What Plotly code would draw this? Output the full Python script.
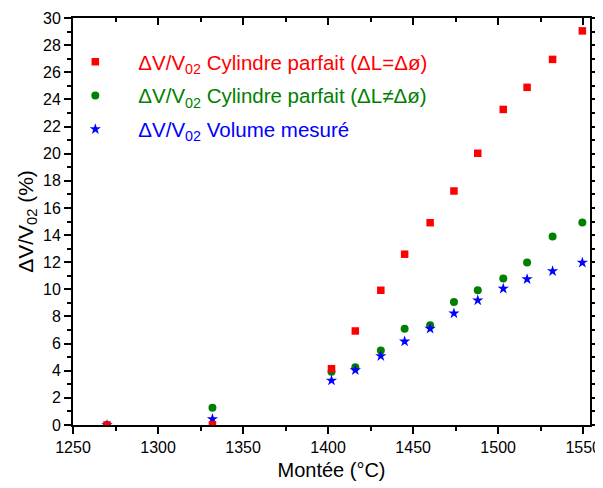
import plotly.graph_objects as go

temps = [1270, 1332, 1402, 1416, 1431, 1445, 1460, 1474, 1488, 1503, 1517, 1532, 1549.5]
dv_parfait_eq = [0, 0.02, 4.15, 6.93, 9.93, 12.59, 14.91, 17.25, 20.03, 23.26, 24.89, 26.95, 29.05]
dv_parfait_neq = [0, 1.27, 3.92, 4.26, 5.50, 7.10, 7.35, 9.07, 9.93, 10.79, 11.97, 13.9, 14.93]
dv_mesure = [0, 0.44, 3.28, 4.04, 5.08, 6.16, 7.10, 8.23, 9.19, 10.05, 10.75, 11.34, 11.97]

labels = [
    "ΔV/V<sub>02</sub> Cylindre parfait (ΔL=Δø)",
    "ΔV/V<sub>02</sub> Cylindre parfait (ΔL≠Δø)",
    "ΔV/V<sub>02</sub> Volume mesuré",
]
colors = ["#FF0000", "#008000", "#0000FF"]

FONT = "Liberation Sans, Arial, sans-serif"


def colored(text, color):
    return f"<span style='color:{color}'>{text}</span>"


fig = go.Figure()
fig.add_trace(go.Scatter(x=temps, y=dv_parfait_neq, mode="markers", name=colored(labels[1], colors[1]),
                         marker=dict(symbol="circle", size=8, color=colors[1]),
                         legendrank=2, legendgroup="b"))
fig.add_trace(go.Scatter(x=temps, y=dv_mesure, mode="markers", name=colored(labels[2], colors[2]),
                         marker=dict(symbol="star", size=8.5, color=colors[2]),
                         legendrank=3, legendgroup="c"))
fig.add_trace(go.Scatter(x=temps, y=dv_parfait_eq, mode="markers", name=colored(labels[0], colors[0]),
                         marker=dict(symbol="square", size=7.5, color=colors[0]),
                         legendrank=1, legendgroup="a"))
# empty trace to activate the top axis
fig.add_trace(go.Scatter(x=[], y=[], xaxis="x2", showlegend=False, hoverinfo="skip"))

axis_common = dict(showline=True, linecolor="black", linewidth=2, showgrid=False,
                   zeroline=False, tickcolor="black", tickwidth=1.5, automargin=False,
                   tickfont=dict(family=FONT, size=16, color="black"))

# the page places the figure 8px from the top-left corner (default body margin)
fig.update_layout(
    template="none",
    width=595, height=480,
    margin=dict(l=65, r=13, t=10, b=63),
    paper_bgcolor="white", plot_bgcolor="white",
    font=dict(family=FONT, size=16, color="black"),
    xaxis=dict(range=[1250, 1554], dtick=50, tick0=1250, ticks="outside", ticklen=7,
               minor=dict(dtick=25, ticks="outside", ticklen=4, tickcolor="black", tickwidth=1.5),
               title=dict(text="Montée (°C)", font=dict(family=FONT, size=20), standoff=8),
               **axis_common),
    xaxis2=dict(range=[1250, 1554], dtick=50, tick0=1250, ticks="inside", ticklen=7,
                overlaying="x", side="top", anchor="y", showticklabels=False,
                minor=dict(dtick=25, ticks="inside", ticklen=4, tickcolor="black", tickwidth=1.5),
                **axis_common),
    yaxis=dict(range=[0, 30], dtick=2, ticks="outside", ticklen=7, mirror="ticks",
               minor=dict(dtick=1, ticks="outside", ticklen=4, tickcolor="black", tickwidth=1.5),
               title=dict(text="ΔV/V<sub>02</sub> (%)", font=dict(family=FONT, size=21), standoff=4),
               **axis_common),
    legend=dict(x=-0.04, y=0.941, xanchor="left", yanchor="top", bgcolor="rgba(0,0,0,0)",
                font=dict(family=FONT, size=20.5), traceorder="grouped", tracegroupgap=4,
                itemwidth=76),
    showlegend=True,
)

fig.write_html("out.html")
